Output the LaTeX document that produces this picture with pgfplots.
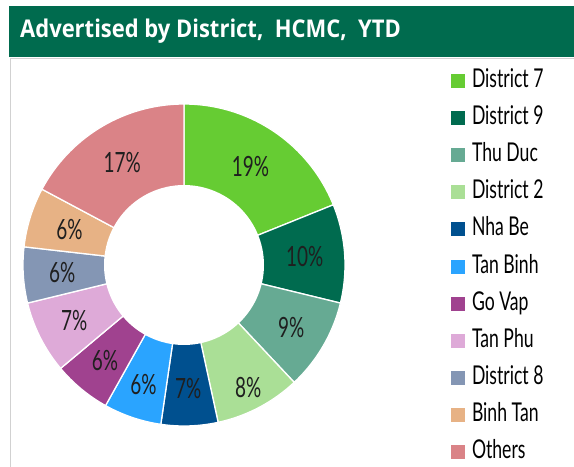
\documentclass[border=0pt]{standalone}
\usepackage{fontspec}
\setmainfont{Lato}
\newfontfamily\twfont[FakeStretch=0.68]{Lato}
\newfontfamily\titlefont[FakeStretch=0.9]{Open Sans}
\usepackage{pgfplots}
\usepackage{pgfplotstable}
\pgfplotsset{compat=1.18}

\definecolor{hdr}{HTML}{006B4E}
\definecolor{slc0}{HTML}{66CC33}
\definecolor{slc1}{HTML}{006B4F}
\definecolor{slc2}{HTML}{66AA93}
\definecolor{slc3}{HTML}{AADF96}
\definecolor{slc4}{HTML}{00508F}
\definecolor{slc5}{HTML}{2AA4FF}
\definecolor{slc6}{HTML}{A0428F}
\definecolor{slc7}{HTML}{DEAAD8}
\definecolor{slc8}{HTML}{8496B4}
\definecolor{slc9}{HTML}{E7B285}
\definecolor{slc10}{HTML}{DA8387}

% share = slice size, label = printed percentage,
% lr = distance of the label from the centre
\pgfplotstableread[col sep=comma]{
name,share,label,lr
District 7,18.9,19,119
District 9,9.9,10,121
Thu Duc,9.2,9,124
District 2,8.6,8,138
Nha Be,5.7,7,124
Tan Binh,5.8,6,126
Go Vap,5.8,6,124
Tan Phu,7.3,7,123
District 8,5.6,6,122
Binh Tan,6.0,6,120
Others,17.2,17,120
}\datatable

\def\total{0}
\pgfplotsforeachungrouped \i in {0,...,10}{%
  \pgfplotstablegetelem{\i}{share}\of\datatable
  \pgfmathsetmacro\tmp{\total+\pgfplotsretval}%
  \xdef\total{\tmp}%
}
\pgfmathsetmacro\degper{360/\total}
\def\cum{0}
\pgfplotsforeachungrouped \i in {0,...,10}{%
  \pgfplotstablegetelem{\i}{share}\of\datatable
  \edef\val{\pgfplotsretval}%
  \pgfmathsetmacro\a{90-\degper*\cum}%
  \pgfmathsetmacro\newcum{\cum+\val}%
  \pgfmathsetmacro\b{90-\degper*\newcum}%
  \pgfmathsetmacro\m{(\a+\b)/2}%
  \expandafter\xdef\csname sA\i\endcsname{\a}%
  \expandafter\xdef\csname sB\i\endcsname{\b}%
  \expandafter\xdef\csname sM\i\endcsname{\m}%
  \xdef\cum{\newcum}%
  \pgfplotstablegetelem{\i}{label}\of\datatable
  \expandafter\xdef\csname pc\i\endcsname{\pgfplotsretval}%
  \pgfplotstablegetelem{\i}{lr}\of\datatable
  \expandafter\xdef\csname lr\i\endcsname{\pgfplotsretval}%
  \pgfplotstablegetelem{\i}{name}\of\datatable
  \expandafter\xdef\csname nm\i\endcsname{\pgfplotsretval}%
}

\begin{document}
\begin{tikzpicture}
\useasboundingbox (0,0) rectangle (574bp,467bp);
\begin{axis}[
  at={(0,0)}, anchor=south west,
  x=1bp, y=1bp, xmin=0, xmax=574, ymin=0, ymax=467,
  hide axis, scale only axis, clip=false,
  legend image code/.code={\fill[#1,draw=none] (0bp,-7bp) rectangle (14bp,7bp);},
  legend cell align=left,
  legend style={at={(axis cs:451,398.5)}, anchor=north west, draw=none, fill=none,
    inner sep=0pt, outer sep=0pt, row sep=12.1bp,
    /tikz/every odd column/.append style={column sep=7bp},
    nodes={inner sep=0pt, text height=19bp, text depth=6bp,
      font=\twfont\fontsize{26}{26}\selectfont}},
]
% header and frame
\fill[hdr] (axis cs:9,410) rectangle (axis cs:574,461);
\draw[black!18, line width=1bp] (axis cs:10,0) -- (axis cs:10,408.5) -- (axis cs:574,408.5);
\node[anchor=base west, inner sep=0pt, text=white,
  font=\titlefont\bfseries\fontsize{24.5}{24.5}\selectfont]
  at (axis cs:20,429.5) {Advertised by District,\ \ HCMC,\ \ YTD};

\pgfplotsinvokeforeach{0,...,10}{
  \addplot[fill=slc#1, draw=white, line width=1.3bp,
    domain=\csname sB#1\endcsname:\csname sA#1\endcsname, samples=60]
    ({184+161*cos(x)},{202+161*sin(x)}) -- (axis cs:184,202) -- cycle;
  \addlegendentry{\csname nm#1\endcsname}
}
\addplot[fill=white, draw=none, domain=0:360, samples=120, forget plot]
  ({184+80*cos(x)},{202+80*sin(x)}) -- cycle;

\pgfplotsinvokeforeach{0,...,10}{
  \node[inner sep=0pt, text=black!88, font=\twfont\fontsize{28}{28}\selectfont]
    at (axis cs:{184+\csname lr#1\endcsname*cos(\csname sM#1\endcsname)},{202+\csname lr#1\endcsname*sin(\csname sM#1\endcsname)})
    {\csname pc#1\endcsname\%};
}
\end{axis}
\end{tikzpicture}
\end{document}
